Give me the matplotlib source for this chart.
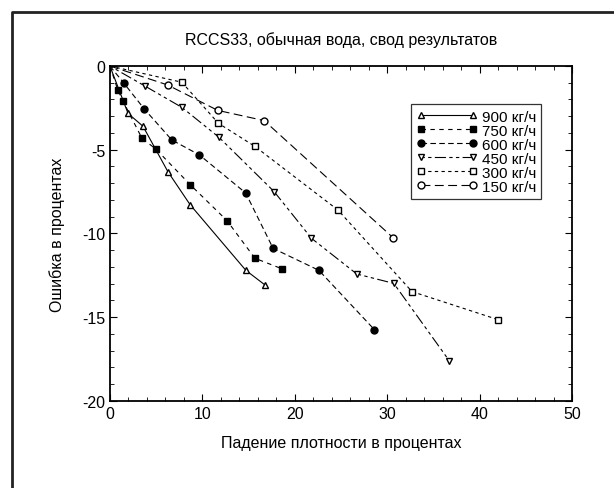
import matplotlib.pyplot as plt
from matplotlib.lines import Line2D
from matplotlib.ticker import MultipleLocator

plt.rcParams['font.family'] = ['Liberation Sans', 'DejaVu Sans']
plt.rcParams['axes.unicode_minus'] = False

# data (density drop %, error %)
x_900 = [0, 1.96, 3.58, 6.27, 8.67, 14.7, 16.76]
y_900 = [0, -2.83, -3.6, -6.31, -8.28, -12.2, -13.07]

x_750 = [0, 0.84, 1.42, 3.47, 4.97, 8.67, 12.66, 15.68, 18.66]
y_750 = [0, -1.41, -2.1, -4.32, -4.96, -7.08, -9.23, -11.48, -12.12]

x_600 = [0, 1.49, 3.72, 6.70, 9.68, 14.68, 17.65, 22.6, 28.6]
y_600 = [0, -1.01, -2.57, -4.42, -5.31, -7.58, -10.89, -12.2, -15.74]

x_450 = [0, 3.83, 7.78, 11.8, 17.76, 21.8, 26.7, 30.7, 36.7]
y_450 = [0, -1.21, -2.47, -4.26, -7.5, -10.29, -12.42, -12.98, -17.6]

x_300 = [0, 7.78, 11.73, 15.68, 24.66, 32.67, 42.0]
y_300 = [0, -0.97, -3.42, -4.8, -8.6, -13.47, -15.15]

x_150 = [0, 6.23, 11.66, 16.68, 30.66]
y_150 = [0, -1.13, -2.65, -3.26, -10.27]

labels = ['900 кг/ч', '750 кг/ч', '600 кг/ч', '450 кг/ч', '300 кг/ч', '150 кг/ч']

fig = plt.figure(figsize=(6.14, 4.89), dpi=100)
ax = fig.add_axes([0.179, 0.178, 0.753, 0.685])

# the origin point is shared, no marker drawn there
k = dict(color='black', lw=0.8, ms=5, markevery=slice(1, None))
ax.plot(x_900, y_900, marker='^', mfc='white', ls='-', label=labels[0], **k)
ax.plot(x_750, y_750, marker='s', mfc='black', ls=(0, (4, 4)), label=labels[1], **k)
ax.plot(x_600, y_600, marker='o', mfc='black', ls=(0, (5, 3)), label=labels[2], **k)
ax.plot(x_450, y_450, marker='v', mfc='white', ls=(0, (3, 3, 3, 3, 10, 3)), label=labels[3], **k)
ax.plot(x_300, y_300, marker='s', mfc='white', ls=(0, (3, 3)), label=labels[4], **k)
ax.plot(x_150, y_150, marker='o', mfc='white', ls=(0, (8, 4)), label=labels[5], **k)

ax.set_xlim(0, 50)
ax.set_ylim(-20, 0)
ax.xaxis.set_major_locator(MultipleLocator(10))
ax.xaxis.set_minor_locator(MultipleLocator(2))
ax.yaxis.set_major_locator(MultipleLocator(5))
ax.yaxis.set_minor_locator(MultipleLocator(1))
ax.tick_params(which='both', direction='in', top=True, right=True, labelsize=11.5)
ax.tick_params(which='major', length=5)
ax.tick_params(which='minor', length=3)
for s in ax.spines.values():
    s.set_linewidth(1.3)

ax.set_title('RCCS33, обычная вода, свод результатов', fontsize=11.5, pad=16)
ax.set_xlabel('Падение плотности в процентах', fontsize=11.5, labelpad=10)
ax.set_ylabel('Ошибка в процентах', fontsize=11.5, labelpad=12)

leg = ax.legend(loc='upper left', bbox_to_anchor=(0.634, 0.908), numpoints=2,
                fontsize=11, frameon=True, fancybox=False, handlelength=4,
                labelspacing=0.0, borderpad=0.35, handletextpad=0.3)
leg.get_frame().set_edgecolor('black')
leg.get_frame().set_linewidth(0.9)

# outer frame (only left and top visible)
fx = 12 / 614
fy = 1 - 13 / 489
fig.add_artist(Line2D([fx, fx, 1], [0, fy, fy], transform=fig.transFigure,
                      color='#222222', lw=2))

fig.savefig('out.png', dpi=100)
